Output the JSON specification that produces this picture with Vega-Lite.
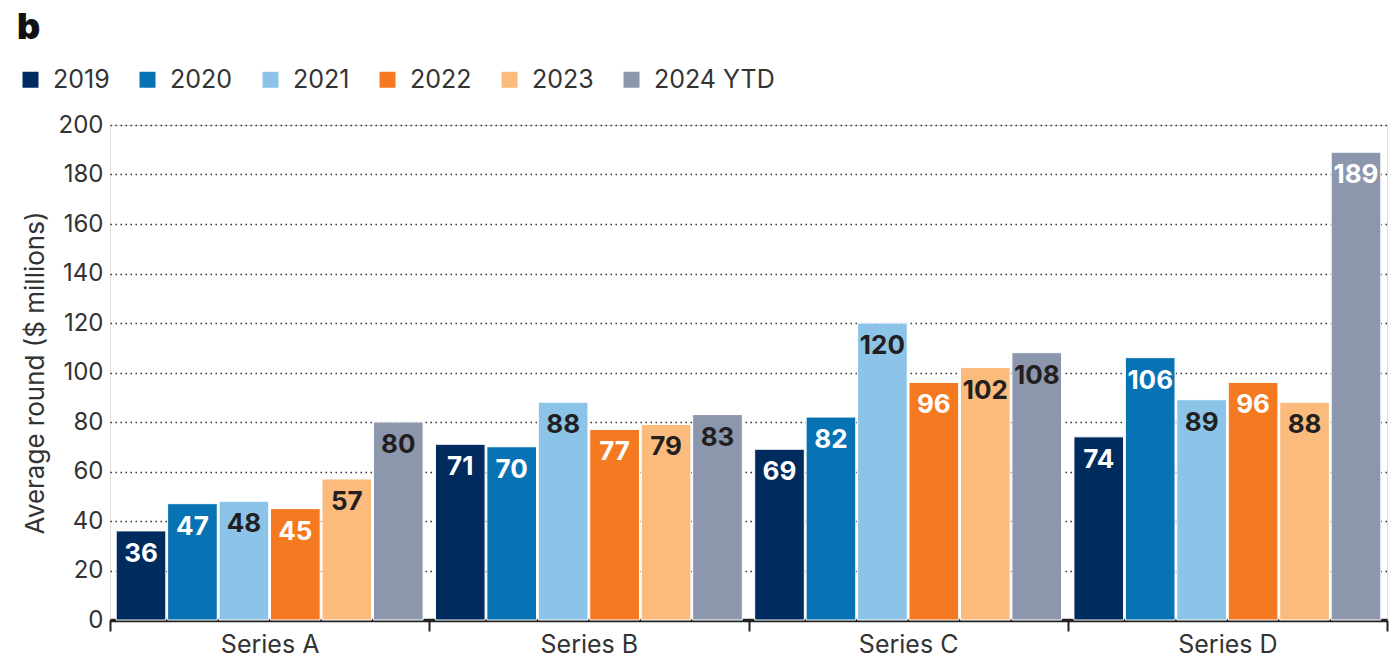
{
  "$schema": "https://vega.github.io/schema/vega-lite/v6.json",
  "autosize": {"type": "none"},
  "width": 1277,
  "height": 495,
  "padding": {"left": 110, "top": 125, "right": 10, "bottom": 38},
  "background": "white",
  "title": {
    "text": "b",
    "anchor": "start",
    "frame": "group",
    "fontSize": 36,
    "fontWeight": 900,
    "font": "Inter",
    "color": "#111111",
    "dx": -93,
    "dy": 36,
    "baseline": "alphabetic",
    "offset": 28
  },
  "data": {
    "values": [
      {"series": "Series A", "year": "2019", "value": 36},
      {"series": "Series A", "year": "2020", "value": 47},
      {"series": "Series A", "year": "2021", "value": 48},
      {"series": "Series A", "year": "2022", "value": 45},
      {"series": "Series A", "year": "2023", "value": 57},
      {"series": "Series A", "year": "2024 YTD", "value": 80},
      {"series": "Series B", "year": "2019", "value": 71},
      {"series": "Series B", "year": "2020", "value": 70},
      {"series": "Series B", "year": "2021", "value": 88},
      {"series": "Series B", "year": "2022", "value": 77},
      {"series": "Series B", "year": "2023", "value": 79},
      {"series": "Series B", "year": "2024 YTD", "value": 83},
      {"series": "Series C", "year": "2019", "value": 69},
      {"series": "Series C", "year": "2020", "value": 82},
      {"series": "Series C", "year": "2021", "value": 120},
      {"series": "Series C", "year": "2022", "value": 96},
      {"series": "Series C", "year": "2023", "value": 102},
      {"series": "Series C", "year": "2024 YTD", "value": 108},
      {"series": "Series D", "year": "2019", "value": 74},
      {"series": "Series D", "year": "2020", "value": 106},
      {"series": "Series D", "year": "2021", "value": 89},
      {"series": "Series D", "year": "2022", "value": 96},
      {"series": "Series D", "year": "2023", "value": 88},
      {"series": "Series D", "year": "2024 YTD", "value": 189}
    ]
  },
  "encoding": {
    "x": {
      "field": "series",
      "type": "nominal",
      "scale": {"paddingInner": 0, "paddingOuter": 0},
      "axis": {
        "title": null,
        "labelAngle": 0,
        "labelFontSize": 25,
        "labelFont": "Inter",
        "labelColor": "#333333",
        "labelPadding": 1,
        "tickBand": "extent",
        "tickSize": 11,
        "tickWidth": 2,
        "tickColor": "#222222",
        "domainColor": "#222222",
        "domainWidth": 3.5,
        "grid": false
      }
    },
    "xOffset": {
      "field": "year",
      "type": "nominal",
      "scale": {"paddingInner": 0.035, "paddingOuter": 0.12}
    },
    "y": {
      "field": "value",
      "type": "quantitative",
      "scale": {"domain": [0, 200], "nice": false},
      "axis": {
        "title": "Average round ($ millions)",
        "titleFontSize": 26,
        "titleFont": "Inter",
        "titleFontWeight": "normal",
        "titleColor": "#333333",
        "titlePadding": 10,
        "values": [0, 20, 40, 60, 80, 100, 120, 140, 160, 180, 200],
        "labelFontSize": 24,
        "labelFont": "Inter",
        "labelColor": "#333333",
        "labelPadding": 7,
        "domain": false,
        "ticks": false,
        "grid": true,
        "gridColor": "#333333",
        "gridDash": [1.5, 3.5],
        "gridWidth": 1.5
      }
    }
  },
  "layer": [
    {
      "mark": {"type": "bar", "stroke": "white", "strokeWidth": 1},
      "encoding": {
        "color": {
          "field": "year",
          "type": "nominal",
          "scale": {
            "domain": ["2019", "2020", "2021", "2022", "2023", "2024 YTD"],
            "range": ["#002b5e", "#0873b4", "#8bc4e8", "#f47920", "#fbbb7d", "#8c97ae"]
          },
          "legend": {
            "title": null,
            "orient": "none",
            "legendX": -92,
            "legendY": -58,
            "direction": "horizontal",
            "symbolType": "square",
            "symbolSize": 256,
            "symbolStrokeWidth": 0,
            "labelFontSize": 25,
            "labelFont": "Inter",
            "labelColor": "#333333",
            "labelOffset": 10,
            "columnPadding": 25
          }
        }
      }
    },
    {
      "mark": {
        "type": "text",
        "baseline": "top",
        "dy": 10,
        "fontSize": 26,
        "fontWeight": "bold",
        "font": "Inter"
      },
      "encoding": {
        "text": {"field": "value", "type": "quantitative"},
        "color": {
          "condition": {
            "test": "datum.year == '2019' || datum.year == '2020' || datum.year == '2022' || datum.value > 150",
            "value": "white"
          },
          "value": "#231f20"
        }
      }
    }
  ]
}
